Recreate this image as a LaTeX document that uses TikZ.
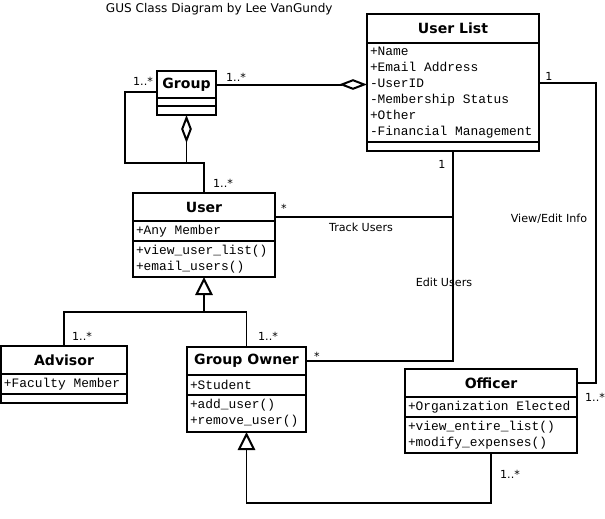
\documentclass[tikz,border=0pt]{standalone}
\usepackage{fontspec}
\setmainfont{DejaVu Sans}
\newfontfamily\umlmono{Liberation Mono}
\usetikzlibrary{positioning,arrows.meta}

\newcommand{\umlpartfont}{\umlmono\fontsize{11}{13.6}\selectfont}

\tikzset{
  umlhead/.style={draw, rectangle, outer sep=0pt, inner sep=0pt, font=\bfseries\fontsize{12}{14}\selectfont},
  umlpart/.style={draw, rectangle, outer sep=0pt, inner xsep=0.09cm, inner ysep=0pt, align=flush left, font=\umlpartfont},
  umllabel/.style={inner sep=0pt, font=\fontsize{9.5}{11}\selectfont},
  aggr/.style={-{Diamond[open,length=0.84cm,width=0.32cm]}},
  inher/.style={-{Triangle[open,length=0.54cm,width=0.52cm]}}
}

\begin{document}
\begin{tikzpicture}[x=0.03cm, y=-0.03cm, line width=1.7pt]
    \useasboundingbox (0,0) rectangle (605,518);

    % Titulo
    \node[umllabel, anchor=west, font=\fontsize{10.3}{12}\selectfont] (title) at (105,9) {GUS Class Diagram by Lee VanGundy};

    % Clase User List
    \node[umlhead, anchor=north west, minimum width=5.16cm, minimum height=0.87cm] (ulhead) at (367,14) {User List};
    \node[umlpart, below=0pt of ulhead, text width=4.98cm, minimum height=2.97cm] (ulattr) {+Name\\+Email Address\\-UserID\\-Membership Status\\+Other\\-Financial Management};
    \node[umlpart, below=0pt of ulattr, text width=4.98cm, minimum height=0.27cm] (ulops) {};

    % Clase Group
    \node[umlhead, anchor=north west, minimum width=1.77cm, minimum height=0.81cm] (grphead) at (157,71) {Group};
    \node[umlpart, below=0pt of grphead, text width=1.59cm, minimum height=0.24cm] (grpattr) {};
    \node[umlpart, below=0pt of grpattr, text width=1.59cm, minimum height=0.27cm] (grpops) {};

    % Clase User
    \node[umlhead, anchor=north west, minimum width=4.26cm, minimum height=0.84cm] (userhead) at (133,193) {User};
    \node[umlpart, below=0pt of userhead, text width=4.08cm, minimum height=0.6cm] (userattr) {+Any Member};
    \node[umlpart, below=0pt of userattr, text width=4.08cm, minimum height=1.08cm] (userops) {+view\_user\_list()\\+email\_users()};

    % Clase Advisor
    \node[umlhead, anchor=north west, minimum width=3.78cm, minimum height=0.84cm] (advhead) at (1,346) {Advisor};
    \node[umlpart, below=0pt of advhead, text width=3.60cm, minimum height=0.6cm] (advattr) {+Faculty Member};
    \node[umlpart, below=0pt of advattr, text width=3.60cm, minimum height=0.27cm] (advops) {};

    % Clase Group Owner
    \node[umlhead, anchor=north west, minimum width=3.57cm, minimum height=0.84cm] (gohead) at (187,347) {Group Owner};
    \node[umlpart, below=0pt of gohead, text width=3.39cm, minimum height=0.6cm] (goattr) {+Student};
    \node[umlpart, below=0pt of goattr, text width=3.39cm, minimum height=1.11cm] (goops) {+add\_user()\\+remove\_user()};

    % Clase Officer
    \node[umlhead, anchor=north west, minimum width=5.16cm, minimum height=0.84cm] (offhead) at (405,369) {Officer};
    \node[umlpart, below=0pt of offhead, text width=4.98cm, minimum height=0.6cm] (offattr) {+Organization Elected};
    \node[umlpart, below=0pt of offattr, text width=4.98cm, minimum height=1.08cm] (offops) {+view\_entire\_list()\\+modify\_expenses()};

    % Agregacion Group - User List
    \draw[aggr] (grphead.east) -- (grphead.east -| ulattr.west);
    \node[umllabel] (mgrpul) at (236,77) {1..*};

    % Group consigo mismo y con User
    \coordinate (grpjoin) at (grpops.south |- 0,163);
    \draw ([yshift=-0.22cm]grphead.west) -- ++(-32,0) |- (grpjoin);
    \draw[aggr] (userhead.north) |- (grpjoin) -- (grpops.south);
    \node[umllabel] (mgrpself) at (143,81) {1..*};
    \node[umllabel] (musergrp) at (223,183) {1..*};

    % Herencia hacia User
    \coordinate (userinh) at (userops.south |- 0,312);
    \draw (advhead.north) |- (userinh);
    \draw (gohead.north) |- (userinh);
    \draw[inher] (userinh) -- (userops.south);
    \node[umllabel] (madv) at (82,336) {1..*};
    \node[umllabel] (mgo) at (268,336) {1..*};

    % Track Users y Edit Users
    \draw ([yshift=-0.3cm]userhead.east) -- ([yshift=-0.3cm]userhead.east -| ulops.south);
    \draw (ulops.south) |- (gohead.east);
    \node[umllabel] (musertrack) at (284,208) {*};
    \node[umllabel] (ltrack) at (361,227) {Track Users};
    \node[umllabel] (mulbottom) at (442,164) {1};
    \node[umllabel] (ledit) at (444,282) {Edit Users};
    \node[umllabel] (mgoedit) at (317,356) {*};

    % View/Edit Info
    \draw ([yshift=0.28cm]ulattr.east) -- ++(57,0) |- (offhead.east);
    \node[umllabel] (mulright) at (549,76) {1};
    \node[umllabel] (lview) at (549,219) {View/Edit Info};
    \node[umllabel] (moffright) at (595,397) {1..*};

    % Herencia Officer - Group Owner
    \draw[inher] (offops.south) -- (offops.south |- 0,503) -| (goops.south);
    \node[umllabel] (moffbottom) at (510,474) {1..*};

\end{tikzpicture}
\end{document}
